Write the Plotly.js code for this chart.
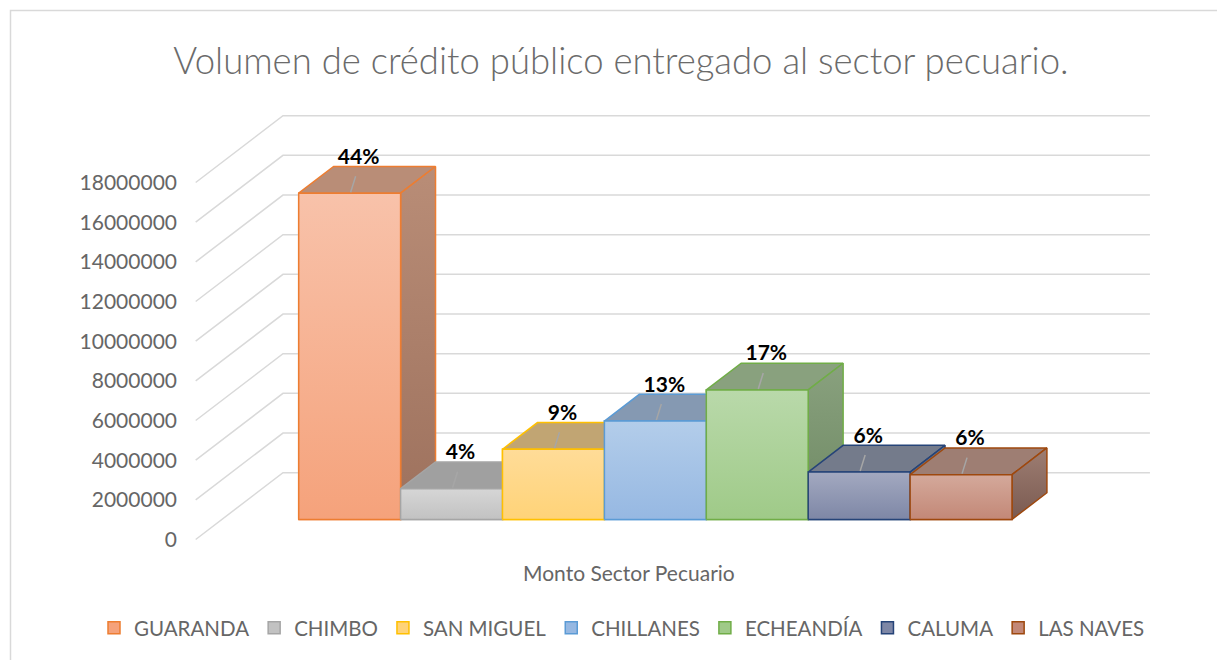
<!DOCTYPE html>
<html>
<head>
<meta charset="utf-8">
<script src="https://cdn.plot.ly/plotly-3.0.1.min.js"></script>
<style>html,body{margin:0;padding:0;background:#fff;}#chart{width:1217px;height:660px;}</style>
</head>
<body>
<div id="chart"></div>
<script>
// ---------------- data ----------------
const categories = ['GUARANDA', 'CHIMBO', 'SAN MIGUEL', 'CHILLANES', 'ECHEANDÍA', 'CALUMA', 'LAS NAVES'];
const montos = [16450000, 1550000, 3540000, 4960000, 6530000, 2390000, 2260000];
const tickValues = [0, 2000000, 4000000, 6000000, 8000000, 10000000, 12000000, 14000000, 16000000, 18000000];
const seriesTitle = 'Monto Sector Pecuario';
const chartTitle = 'Volumen de crédito público entregado al sector pecuario.';

// ---------------- styles ----------------
const borderColors = ['#ED7D31', '#A5A5A5', '#FFC000', '#5B9BD5', '#70AD47', '#264478', '#9E480E'];
const frontTop    = ['#F8C2AA', '#D6D6D6', '#FFDC98', '#B3CDEA', '#B9D9AA', '#A3A9C0', '#D4A99B'];
const frontBottom = ['#F5A27B', '#C2C2C2', '#FFD378', '#96B8E2', '#9FCA88', '#7E87A6', '#C38877'];
const topColors   = ['#B98D77', '#A0A0A0', '#C1A573', '#8599B2', '#89A17E', '#747B8B', '#9E7E73'];
const sideColors  = ['#9D715D', '#8A8A8A', '#A88E5C', '#6F839C', '#6E8963', '#5E6577', '#7A5A50'];

// ---------------- geometry (layout constants) ----------------
const W = 1217, H = 660;
const PX0 = 298.7;      // pixel x of first bar's front-left edge
const BW = 101.9;       // pixel width of one bar (1 x-unit)
const Y0 = 539.5;       // pixel y of value 0 at the floor front
const PPV = 19.833e-6;  // pixels per value unit
const floorDX = 87.3 / BW;        // floor depth, x units
const floorDV = 66.8 / PPV;       // floor depth, value units
const barStart = 0.3, barDepth = 0.4;
const baseV = barStart * floorDV;
const dxB = barDepth * floorDX, dvB = barDepth * floorDV;
const barsLeft0 = -barStart * floorDX;           // bars' left at depth 0
const catPad = 0.754;                            // category padding (x units)
const floorLeft = barsLeft0 - catPad;
const floorRight = barsLeft0 + categories.length + catPad;
const px2v = p => p / PPV;
const px2x = p => p / BW;

const traces = [];

// gridlines (side wall diagonals + back wall)
const gx = [], gy = [];
tickValues.forEach(v => {
  gx.push(floorLeft, floorLeft + floorDX, floorRight + floorDX, null);
  gy.push(v, v + floorDV, v + floorDV, null);
});
traces.push({type: 'scatter', mode: 'lines', x: gx, y: gy, line: {color: '#D9D9D9', width: 1.5},
  hoverinfo: 'skip', showlegend: false});

// legend / base bars (front faces)
categories.forEach((c, i) => {
  traces.push({type: 'bar', name: c, x: [i + 0.5], y: [montos[i]], base: [baseV], width: [1],
    marker: {color: frontBottom[i], line: {color: borderColors[i], width: 1.5}},
    hoverinfo: 'name+y', showlegend: true});
});

// 3D faces, painted left to right
categories.forEach((c, i) => {
  const v = montos[i], b = baseV, t = baseV + v;
  const L = i, R = i + 1;
  const ln = {color: borderColors[i], width: 1.5};
  // top face
  traces.push({type: 'scatter', mode: 'lines', fill: 'toself', fillcolor: topColors[i], line: ln,
    x: [L, R, R + dxB, L + dxB, L], y: [t, t, t + dvB, t + dvB, t], hoverinfo: 'skip', showlegend: false});
  // side face
  traces.push({type: 'scatter', mode: 'lines', fill: 'toself', fillcolor: sideColors[i], line: ln,
    fillgradient: {type: 'vertical', colorscale: [[0, sideColors[i]], [1, topColors[i]]]},
    x: [R, R + dxB, R + dxB, R, R], y: [b, b + dvB, t + dvB, t, b], hoverinfo: 'skip', showlegend: false});
  // front face
  traces.push({type: 'scatter', mode: 'lines', fill: 'toself', fillcolor: frontBottom[i], line: ln,
    fillgradient: {type: 'vertical', colorscale: [[0, frontBottom[i]], [1, frontTop[i]]]},
    x: [L, R, R, L, L], y: [b, b, t, t, b], hoverinfo: 'skip', showlegend: false});
});

// leader lines and percentage labels
const total = montos.reduce((a, b) => a + b, 0);
const lx = [], ly = [], tx = [], ty = [], tt = [];
categories.forEach((c, i) => {
  const t = baseV + montos[i];
  const cx = i + 0.5 + px2x(9);
  lx.push(cx - px2x(3), i + 0.5 + px2x(1), null);
  ly.push(t + px2v(17), t + px2v(1), null);
  tx.push(cx); ty.push(t + dvB + px2v(8));
  tt.push(Math.round(montos[i] / total * 100) + '%');
});
traces.push({type: 'scatter', mode: 'lines', x: lx, y: ly, line: {color: '#A6A6A6', width: 1.5},
  hoverinfo: 'skip', showlegend: false});
traces.push({type: 'scatter', mode: 'text', x: tx, y: ty, text: tt, textposition: 'middle center',
  textfont: {family: 'Lato, sans-serif', size: 21, color: '#000000', weight: 'bold'},
  hoverinfo: 'skip', showlegend: false, cliponaxis: false});

const layout = {
  width: W, height: H,
  margin: {l: 0, r: 0, t: 0, b: 0},
  paper_bgcolor: '#FFFFFF', plot_bgcolor: 'rgba(0,0,0,0)',
  font: {family: 'Lato, sans-serif', color: '#595959'},
  barmode: 'overlay',
  title: {text: chartTitle, x: 621 / W, xanchor: 'center', y: 1 - 61 / H, yanchor: 'middle',
    font: {family: 'Lato, sans-serif', size: 36.5, color: '#6B6B6B', weight: 300}},
  xaxis: {range: [-px2x(PX0), px2x(W - PX0)], domain: [0, 1], visible: false, fixedrange: true},
  yaxis: {range: [px2v(Y0 - H), px2v(Y0)], domain: [0, 1], anchor: 'free', position: 177 / W,
    tickvals: tickValues, ticktext: tickValues.map(v => String(v)), showgrid: false, zeroline: false,
    showline: false, ticks: '', tickfont: {family: 'Lato, sans-serif', size: 21, color: '#666666'},
    fixedrange: true},
  legend: {orientation: 'h', x: 622 / W, xanchor: 'center', y: 1 - 628 / H, yanchor: 'middle',
    font: {family: 'Lato, sans-serif', size: 20.5, color: '#666666'}, itemwidth: 30, traceorder: 'normal',
    bgcolor: 'rgba(0,0,0,0)'},
  annotations: [{text: seriesTitle, xref: 'paper', yref: 'paper', x: 629.5 / W, y: 1 - 572 / H,
    xanchor: 'center', yanchor: 'middle', showarrow: false,
    font: {family: 'Lato, sans-serif', size: 21, color: '#666666'}}],
  shapes: [{type: 'rect', xref: 'paper', yref: 'paper', x0: 10.5 / W, x1: 1.01, y0: -0.01, y1: 1 - 10.5 / H,
    line: {color: '#D9D9D9', width: 1.5}, fillcolor: 'rgba(0,0,0,0)', layer: 'below'}],
  showlegend: true
};

Plotly.newPlot('chart', traces, layout, {displayModeBar: false, staticPlot: true});
</script>
</body>
</html>
